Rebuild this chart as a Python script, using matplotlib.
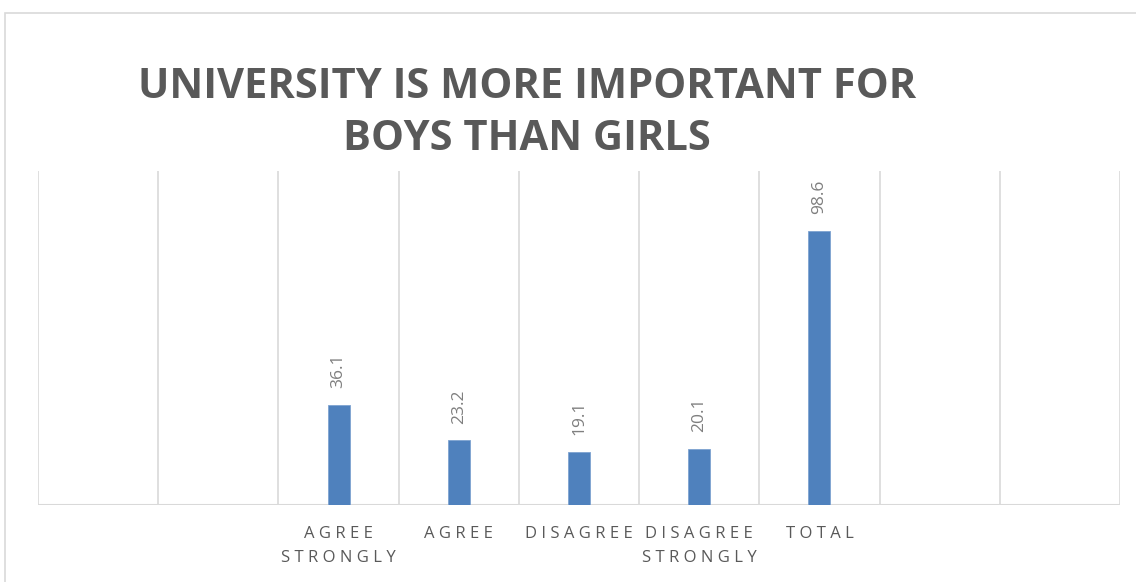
import matplotlib.pyplot as plt
from matplotlib.patches import Rectangle

# datos del gráfico
categorias = ['', '', 'AGREE\nSTRONGLY', 'AGREE', 'DISAGREE', 'DISAGREE\nSTRONGLY', 'TOTAL', '', '']
valores = [None, None, 36.1, 23.2, 19.1, 20.1, 98.6, None, None]
titulo = ['UNIVERSITY IS MORE IMPORTANT FOR', 'BOYS THAN GIRLS']

W, H = 1136, 582
fig = plt.figure(figsize=(W / 100, H / 100), dpi=100)
ax = fig.add_axes([38 / W, (H - 505) / H, (1120 - 38) / W, (505 - 171) / H])

# marco exterior del gráfico
fig.patches.append(Rectangle((5 / W, -0.1), 1.2, (H - 13) / H + 0.1, transform=fig.transFigure,
                             fill=False, edgecolor='#d9d9d9', linewidth=1.2))

x = list(range(len(categorias)))
for i, v in zip(x, valores):
    if v is None:
        continue
    ax.bar(i, v, width=0.183, color='#4f81bd', edgecolor='#7ea3d1', linewidth=0.6, zorder=3)
    ax.text(i, v + 6, f'{v}', rotation=90, ha='center', va='bottom',
            fontsize=12.5, color='#7f7f7f', family='Open Sans')

ax.set_xlim(-0.5, len(categorias) - 0.5)
ax.set_ylim(0, 120)

# líneas verticales entre categorías
for b in range(len(categorias) + 1):
    ax.axvline(b - 0.5, color='#d9d9d9', linewidth=1.2, zorder=1)
ax.axhline(0, color='#d9d9d9', linewidth=1.5, zorder=2)

for s in ax.spines.values():
    s.set_visible(False)
ax.set_yticks([])
ax.set_xticks(x)
espaciado = ['\n'.join(' '.join(linea) for linea in c.split('\n')) for c in categorias]
ax.set_xticklabels(espaciado, fontsize=12, color='#595959', family='Open Sans', linespacing=1.7)
ax.tick_params(axis='x', length=0, pad=15)

# título en dos líneas
for linea, yp in zip(titulo, [87, 140]):
    fig.text(527 / W, 1 - yp / H, linea, ha='center', va='center', fontsize=30,
             fontweight='bold', color='#595959', family='Open Sans')

fig.savefig('out.png', dpi=100)
